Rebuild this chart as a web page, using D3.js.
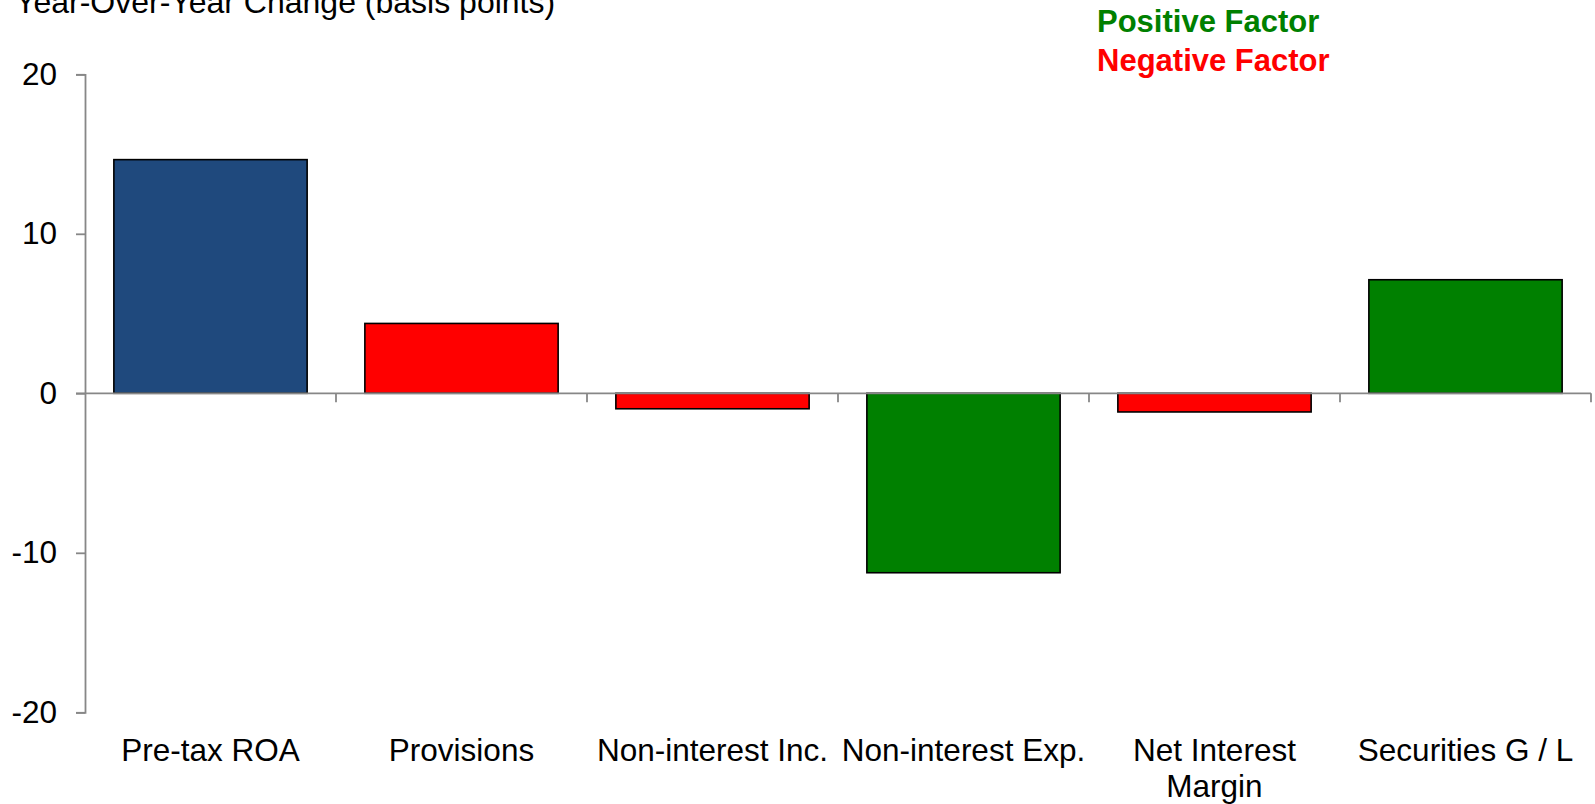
<!DOCTYPE html>
<html>
<head>
<meta charset="utf-8">
<script src="https://cdn.jsdelivr.net/npm/d3@7"></script>
<style>
  html, body { margin: 0; padding: 0; background: #fff; }
  svg { display: block; font-family: Arial, "Liberation Sans", sans-serif; }
</style>
</head>
<body>
<svg id="chart" width="1595" height="804"></svg>
<script>
// Year-over-year drivers of pre-tax ROA (basis points)
const categories = ["Pre-tax ROA", "Provisions", "Non-interest Inc.", "Non-interest Exp.", "Net Interest Margin", "Securities G / L"];
const categoryLines = [["Pre-tax ROA"], ["Provisions"], ["Non-interest Inc."], ["Non-interest Exp."], ["Net Interest", "Margin"], ["Securities G / L"]];
const values = [14.65, 4.38, -0.97, -11.25, -1.17, 7.12];
const factorKinds = ["total", "negative", "negative", "positive", "negative", "positive"];
const yTicks = [-20, -10, 0, 10, 20];
const legendItems = [
  { label: "Positive Factor", kind: "positive" },
  { label: "Negative Factor", kind: "negative" }
];

const colors = { total: "#1F497D", positive: "#008000", negative: "#FF0000" };
const axisColor = "#878787";
const fontSize = 31.5;

const svg = d3.select("#chart");
const plot = { left: 85, right: 1591, top: 74.3, bottom: 712.3 };

const x = d3.scaleBand()
  .domain(categories)
  .range([plot.left, plot.right])
  .paddingInner(0.23)
  .paddingOuter(0.115);

const y = d3.scaleLinear()
  .domain([-20, 20])
  .range([plot.bottom, plot.top]);

// Title (sits partly above the top edge)
svg.append("text")
  .attr("x", 15)
  .attr("y", 13)
  .attr("font-size", 32)
  .attr("fill", "#000")
  .text("Year-Over-Year Change (basis points)");

// Bars
svg.append("g")
  .selectAll("rect")
  .data(values)
  .join("rect")
  .attr("x", (d, i) => x(categories[i]))
  .attr("width", x.bandwidth())
  .attr("y", d => y(Math.max(0, d)))
  .attr("height", d => Math.abs(y(d) - y(0)))
  .attr("fill", (d, i) => colors[factorKinds[i]])
  .attr("stroke", "#000")
  .attr("stroke-width", 1.6);

// Y axis (plain hyphen for negatives)
const yAxis = svg.append("g")
  .attr("transform", `translate(${plot.left},0)`)
  .call(d3.axisLeft(y).tickValues(yTicks).tickSize(9).tickPadding(19).tickFormat(d => String(d)));
yAxis.select(".domain").attr("stroke", axisColor).attr("stroke-width", 1.8);
yAxis.selectAll(".tick line").attr("stroke", axisColor).attr("stroke-width", 1.8);
yAxis.selectAll(".tick text")
  .attr("font-size", fontSize)
  .attr("font-family", "Arial, 'Liberation Sans', sans-serif")
  .attr("fill", "#000");

// Zero line with category separators
const zeroAxis = svg.append("g").attr("transform", `translate(0,${y(0)})`);
zeroAxis.append("line")
  .attr("x1", plot.left - 9)
  .attr("x2", plot.right)
  .attr("stroke", axisColor)
  .attr("stroke-width", 1.8);
const step = x.step();
const boundaries = d3.range(1, categories.length + 1).map(i => x(categories[0]) - x.paddingOuter() * step + i * step);
zeroAxis.selectAll("line.sep")
  .data(boundaries)
  .join("line")
  .attr("class", "sep")
  .attr("x1", d => d)
  .attr("x2", d => d)
  .attr("y1", 0)
  .attr("y2", 9)
  .attr("stroke", axisColor)
  .attr("stroke-width", 1.8);

// Category labels
const labels = svg.append("g")
  .selectAll("text")
  .data(categories)
  .join("text")
  .attr("x", d => x(d) + x.bandwidth() / 2)
  .attr("y", 761)
  .attr("text-anchor", "middle")
  .attr("font-size", fontSize)
  .attr("fill", "#000");
labels.each(function(d, i) {
  d3.select(this).selectAll("tspan")
    .data(categoryLines[i])
    .join("tspan")
    .attr("x", x(d) + x.bandwidth() / 2)
    .attr("dy", (t, j) => j === 0 ? 0 : 36)
    .text(t => t);
});

// Legend
svg.append("g")
  .selectAll("text")
  .data(legendItems)
  .join("text")
  .attr("x", 1097)
  .attr("y", (d, i) => 32 + i * 39)
  .attr("font-size", 31)
  .attr("font-weight", "bold")
  .attr("fill", d => colors[d.kind])
  .text(d => d.label);
</script>
</body>
</html>
